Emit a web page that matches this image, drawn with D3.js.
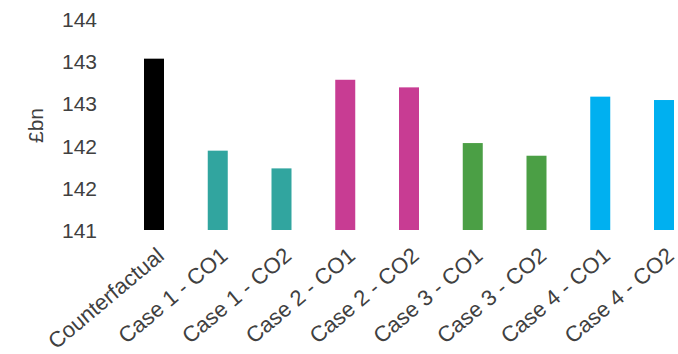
<!DOCTYPE html>
<html>
<head>
<meta charset="utf-8">
<script src="https://cdn.jsdelivr.net/npm/d3@7"></script>
<style>
  html, body { margin: 0; padding: 0; background: #ffffff; }
  svg { display: block; }
  text { font-family: "Liberation Sans", Arial, sans-serif; fill: #404040; }
</style>
</head>
<body>
<svg id="chart" width="678" height="354"></svg>
<script>
// Scenario categories and their totals (£bn)
const categories = [
  "Counterfactual",
  "Case 1 - CO1", "Case 1 - CO2",
  "Case 2 - CO1", "Case 2 - CO2",
  "Case 3 - CO1", "Case 3 - CO2",
  "Case 4 - CO1", "Case 4 - CO2"
];
const values = [143.03, 141.94, 141.73, 142.78, 142.69, 142.03, 141.88, 142.58, 142.54];
const barColors = [
  "#000000",
  "#31a59f", "#31a59f",
  "#c83c93", "#c83c93",
  "#4b9f45", "#4b9f45",
  "#00b0f0", "#00b0f0"
];
const yTicks = [141, 141.5, 142, 142.5, 143, 143.5];
const yLabel = "£bn";

const svg = d3.select("#chart");

const x = d3.scalePoint()
  .domain(categories)
  .range([154, 664]);

const y = d3.scaleLinear()
  .domain([141, 143.5])
  .range([230, 19]);

const barWidth = 20;

// Bars
svg.append("g")
  .selectAll("rect")
  .data(categories)
  .join("rect")
  .attr("x", d => x(d) - barWidth / 2)
  .attr("y", (d, i) => y(values[i]))
  .attr("width", barWidth)
  .attr("height", (d, i) => y(141) - y(values[i]))
  .attr("fill", (d, i) => barColors[i]);

// Y axis (labels only, whole-number format)
const yAxis = d3.axisLeft(y)
  .tickValues(yTicks)
  .tickFormat(d3.format(".0f"))
  .tickSize(0)
  .tickPadding(0);

const gy = svg.append("g")
  .attr("transform", "translate(97,0)")
  .call(yAxis);
gy.select(".domain").remove();
gy.selectAll("text")
  .attr("dy", "0.36em")
  .style("font-size", "21px")
  .style("font-family", "'Liberation Sans', Arial, sans-serif")
  .attr("fill", "#404040");

// X axis labels, rotated
const xAxis = d3.axisBottom(x).tickSize(0).tickPadding(0);
const gx = svg.append("g")
  .call(xAxis);
gx.select(".domain").remove();
gx.selectAll("text")
  .attr("text-anchor", "end")
  .attr("y", 0)
  .attr("dy", 0)
  .attr("transform", "translate(11,258) rotate(-40)")
  .style("font-size", "22px")
  .style("font-family", "'Liberation Sans', Arial, sans-serif")
  .attr("fill", "#404040");

// Y axis title
svg.append("text")
  .attr("transform", "translate(43,125.5) rotate(-90)")
  .attr("text-anchor", "middle")
  .style("font-size", "21px")
  .text(yLabel);
</script>
</body>
</html>
